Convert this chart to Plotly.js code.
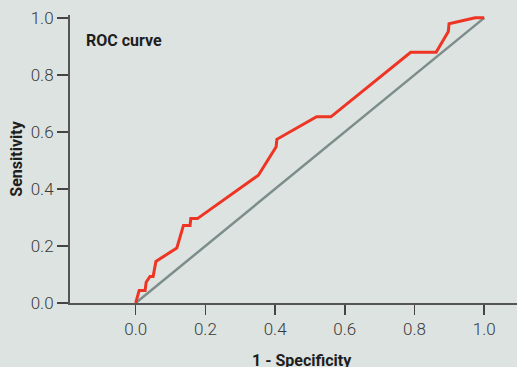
<!DOCTYPE html>
<html><head><meta charset="utf-8">
<script src="https://cdn.plot.ly/plotly-3.0.1.min.js"></script>
<style>html,body{margin:0;padding:0;background:#dde3e0;}#chart{width:517px;height:367px;}</style>
</head><body><div id="chart"></div>
<script>
const fpr = [0, 0.010, 0.027, 0.030, 0.041, 0.050, 0.058, 0.118, 0.137, 0.156, 0.158, 0.177, 0.352, 0.403, 0.405, 0.519, 0.560, 0.789, 0.862, 0.897, 0.899, 0.974, 1.0];
const tpr = [0, 0.044, 0.044, 0.073, 0.093, 0.093, 0.146, 0.193, 0.272, 0.272, 0.296, 0.296, 0.448, 0.548, 0.574, 0.653, 0.653, 0.879, 0.879, 0.952, 0.979, 1.0, 1.0];
const refX = [0, 1];
const refY = [0, 1];
const tickVals = [0, 0.2, 0.4, 0.6, 0.8, 1.0];
const tickText = ['0.0', '0.2', '0.4', '0.6', '0.8', '1.0'];
const chartTitle = 'ROC curve';
const xTitle = '1 - Specificity';
const yTitle = 'Sensitivity';

const fontFam = 'Roboto, "Liberation Sans", sans-serif';
const tickFont = {family: fontFam, size: 17, color: '#3a3a3a', weight: 300};
const boldFont = {family: fontFam, size: 16, color: '#1e1e1e', weight: 700};
const data = [
  {x: refX, y: refY, mode: 'lines', line: {color: '#7d8d8b', width: 2.5}, hoverinfo: 'skip', cliponaxis: false},
  {x: fpr, y: tpr, mode: 'lines', line: {color: '#ee3524', width: 3}, cliponaxis: false}
];
const layout = {
  width: 517, height: 367,
  paper_bgcolor: '#dde3e0', plot_bgcolor: '#dde3e0',
  margin: {l: 70, r: 0, t: 15, b: 64},
  showlegend: false,
  font: {family: fontFam, color: '#3a3a3a', size: 17},
  xaxis: {
    range: [-0.1885, 1.094], tickvals: tickVals, ticktext: tickText,
    showgrid: false, zeroline: false, showline: true, linecolor: '#555', linewidth: 2,
    ticks: 'outside', ticklen: 10, tickwidth: 1.5, tickcolor: '#444',
    tickfont: tickFont
  },
  yaxis: {
    range: [0, 1.01], tickvals: tickVals, ticktext: tickText,
    showgrid: false, zeroline: false, showline: true, linecolor: '#555', linewidth: 2,
    ticks: 'outside', ticklen: 11, tickwidth: 1.5, tickcolor: '#444',
    tickfont: tickFont,
    title: {text: yTitle, standoff: 4, font: boldFont}
  },
  annotations: [
    {text: chartTitle, xref: 'paper', yref: 'paper', x: 0.031, y: 0.913,
     xanchor: 'left', yanchor: 'middle', showarrow: false, font: boldFont},
    {text: xTitle, xref: 'x', yref: 'paper', x: 0.477, y: -0.16,
     xanchor: 'center', yanchor: 'top', showarrow: false, font: boldFont}
  ]
};
Plotly.newPlot('chart', data, layout, {staticPlot: true, displayModeBar: false});
</script></body></html>
